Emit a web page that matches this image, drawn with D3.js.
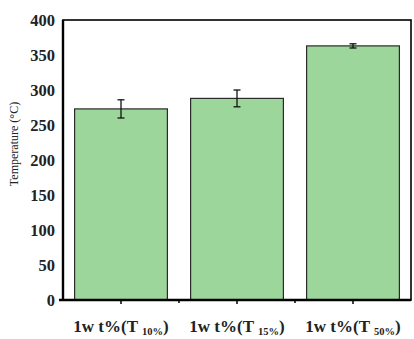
<!DOCTYPE html>
<html>
<head>
<meta charset="utf-8">
<script src="https://cdn.jsdelivr.net/npm/d3@7"></script>
<style>
  html, body { margin: 0; padding: 0; background: #fff; }
  svg { display: block; }
</style>
</head>
<body>
<svg id="chart" width="414" height="339"></svg>
<script>
// Decomposition temperatures at 1 wt% loading
const categories = ["T10", "T15", "T50"];
const subscripts = ["10%", "15%", "50%"];
const temperatures = [273, 288, 363];
const errors = [13, 12, 3];
const yTicks = [0, 50, 100, 150, 200, 250, 300, 350, 400];

const svg = d3.select("#chart");
const margin = { left: 63, right: 3, top: 20, bottom: 39 };
const W = 414, H = 339;

const x = d3.scaleBand()
  .domain(categories)
  .range([margin.left, W - margin.right])
  .paddingInner(0.2)
  .paddingOuter(0.1);

const y = d3.scaleLinear()
  .domain([0, 400])
  .range([H - margin.bottom, margin.top]);

// Bars
svg.append("g").selectAll("rect")
  .data(categories)
  .join("rect")
  .attr("x", d => x(d))
  .attr("y", (d, i) => y(temperatures[i]))
  .attr("width", x.bandwidth())
  .attr("height", (d, i) => y(0) - y(temperatures[i]))
  .attr("fill", "#9dd69a")
  .attr("stroke", "#2a2a2a")
  .attr("stroke-width", 1.2);

// Error bars
const eb = svg.append("g").attr("stroke", "#111").attr("stroke-width", 1.3);
categories.forEach((c, i) => {
  const cx = x(c) + x.bandwidth() / 2;
  const hi = y(temperatures[i] + errors[i]);
  const lo = y(temperatures[i] - errors[i]);
  eb.append("line").attr("x1", cx).attr("x2", cx).attr("y1", hi).attr("y2", lo);
  eb.append("line").attr("x1", cx - 3.5).attr("x2", cx + 3.5).attr("y1", hi).attr("y2", hi);
  eb.append("line").attr("x1", cx - 3.5).attr("x2", cx + 3.5).attr("y1", lo).attr("y2", lo);
});

// Frame
svg.append("rect")
  .attr("x", margin.left)
  .attr("y", margin.top)
  .attr("width", W - margin.right - margin.left)
  .attr("height", y(0) - margin.top)
  .attr("fill", "none")
  .attr("stroke", "#000")
  .attr("stroke-width", 1.6);
svg.append("line")
  .attr("x1", margin.left).attr("x2", margin.left)
  .attr("y1", margin.top).attr("y2", y(0))
  .attr("stroke", "#000").attr("stroke-width", 2.4);
svg.append("line")
  .attr("x1", margin.left - 4).attr("x2", W - margin.right)
  .attr("y1", y(0)).attr("y2", y(0))
  .attr("stroke", "#000").attr("stroke-width", 2.4);

// X tick marks at bar centres and between bars
const xt = svg.append("g").attr("stroke", "#000").attr("stroke-width", 1.5);
categories.forEach((c, i) => {
  const cx = x(c) + x.bandwidth() / 2;
  xt.append("line").attr("x1", cx).attr("x2", cx).attr("y1", y(0)).attr("y2", y(0) + 4);
  if (i > 0) {
    const bx = x(c) - x.step() * x.paddingInner() / 2;
    xt.append("line").attr("x1", bx).attr("x2", bx).attr("y1", y(0)).attr("y2", y(0) + 3);
  }
});

// Y axis labels
const yAxis = d3.axisLeft(y).tickValues(yTicks).tickSize(0).tickPadding(8);
const yg = svg.append("g")
  .attr("transform", `translate(${margin.left},0)`)
  .call(yAxis);
yg.select(".domain").remove();
yg.selectAll("text")
  .attr("font-family", "'Liberation Serif', 'Times New Roman', serif")
  .attr("font-weight", "bold")
  .attr("font-size", 16.5)
  .attr("fill", "#222");

// Y axis title
svg.append("text")
  .attr("transform", "translate(18,144) rotate(-90)")
  .attr("text-anchor", "middle")
  .attr("font-family", "'Liberation Serif', 'Times New Roman', serif")
  .attr("font-size", 12)
  .attr("fill", "#222")
  .text("Temperature (°C)");

// X category labels
const xl = svg.append("g");
categories.forEach((c, i) => {
  const cx = x(c) + x.bandwidth() / 2;
  const t = xl.append("text")
    .attr("x", cx)
    .attr("y", 332)
    .attr("text-anchor", "middle")
    .attr("font-family", "'Liberation Serif', 'Times New Roman', serif")
    .attr("font-weight", "bold")
    .attr("font-size", 17)
    .attr("fill", "#222");
  t.append("tspan").text("1w t%(T ");
  t.append("tspan").attr("font-size", 10.5).attr("dy", 3).text(subscripts[i]);
  t.append("tspan").attr("dy", -3).text(")");
});
</script>
</body>
</html>
